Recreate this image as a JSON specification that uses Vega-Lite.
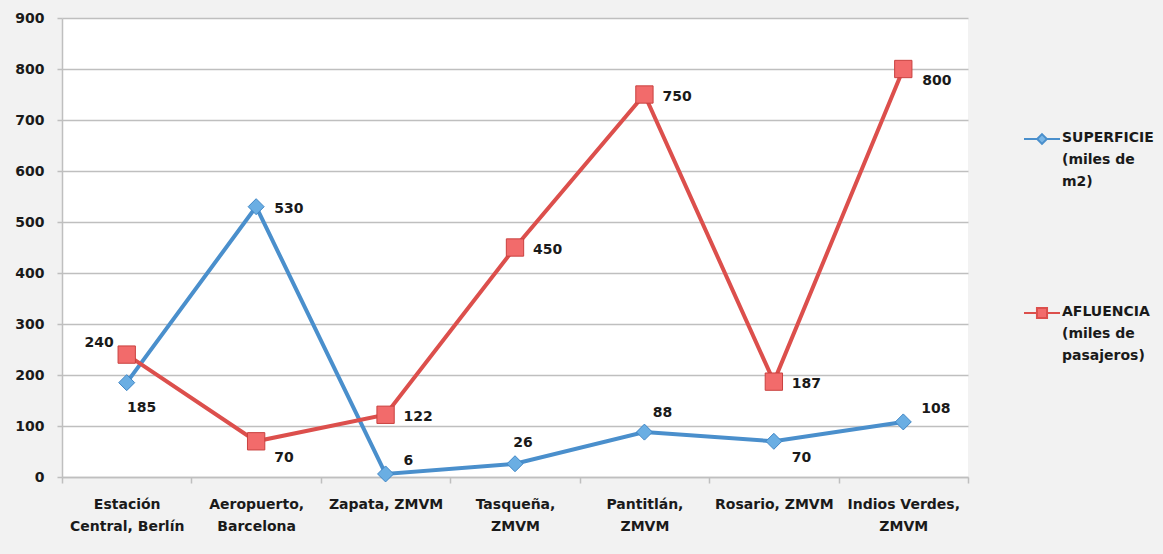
{
  "$schema": "https://vega.github.io/schema/vega-lite/v6.json",
  "width": 906,
  "height": 459,
  "autosize": {"type": "none"},
  "padding": {"left": 62, "top": 18, "right": 195, "bottom": 77},
  "background": "#f2f2f2",
  "config": {"view": {"stroke": null, "fill": "#ffffff"}, "font": "DejaVu Sans"},
  "data": {
    "values": [
      {"cat": "Estación Central, Berlín", "serie": "SUPERFICIE (miles de m2)", "valor": 185},
      {"cat": "Aeropuerto, Barcelona", "serie": "SUPERFICIE (miles de m2)", "valor": 530},
      {"cat": "Zapata, ZMVM", "serie": "SUPERFICIE (miles de m2)", "valor": 6},
      {"cat": "Tasqueña, ZMVM", "serie": "SUPERFICIE (miles de m2)", "valor": 26},
      {"cat": "Pantitlán, ZMVM", "serie": "SUPERFICIE (miles de m2)", "valor": 88},
      {"cat": "Rosario, ZMVM", "serie": "SUPERFICIE (miles de m2)", "valor": 70},
      {"cat": "Indios Verdes, ZMVM", "serie": "SUPERFICIE (miles de m2)", "valor": 108},
      {"cat": "Estación Central, Berlín", "serie": "AFLUENCIA (miles de pasajeros)", "valor": 240},
      {"cat": "Aeropuerto, Barcelona", "serie": "AFLUENCIA (miles de pasajeros)", "valor": 70},
      {"cat": "Zapata, ZMVM", "serie": "AFLUENCIA (miles de pasajeros)", "valor": 122},
      {"cat": "Tasqueña, ZMVM", "serie": "AFLUENCIA (miles de pasajeros)", "valor": 450},
      {"cat": "Pantitlán, ZMVM", "serie": "AFLUENCIA (miles de pasajeros)", "valor": 750},
      {"cat": "Rosario, ZMVM", "serie": "AFLUENCIA (miles de pasajeros)", "valor": 187},
      {"cat": "Indios Verdes, ZMVM", "serie": "AFLUENCIA (miles de pasajeros)", "valor": 800}
    ]
  },
  "encoding": {
    "x": {
      "field": "cat",
      "type": "nominal",
      "sort": null,
      "scale": {"type": "band", "paddingInner": 0, "paddingOuter": 0},
      "axis": {
        "title": null,
        "labelAngle": 0,
        "tickBand": "extent",
        "domainColor": "#bfbfbf",
        "domainWidth": 1.5,
        "tickColor": "#bfbfbf",
        "tickWidth": 1.5,
        "tickSize": 6,
        "labelPadding": 14,
        "labelFont": "DejaVu Sans",
        "labelFontSize": 14,
        "labelFontWeight": "bold",
        "labelColor": "#1a1a1a",
        "labelLineHeight": 22,
        "labelBaseline": "top",
        "labelLimit": 200,
        "labelExpr": "datum.value == 'Estación Central, Berlín' ? ['Estación', 'Central, Berlín'] : datum.value == 'Aeropuerto, Barcelona' ? ['Aeropuerto,', 'Barcelona'] : datum.value == 'Tasqueña, ZMVM' ? ['Tasqueña,', 'ZMVM'] : datum.value == 'Pantitlán, ZMVM' ? ['Pantitlán,', 'ZMVM'] : datum.value == 'Indios Verdes, ZMVM' ? ['Indios Verdes,', 'ZMVM'] : datum.value"
      }
    },
    "y": {
      "field": "valor",
      "type": "quantitative",
      "scale": {"domain": [0, 900], "nice": false},
      "axis": {
        "title": null,
        "values": [0, 100, 200, 300, 400, 500, 600, 700, 800, 900],
        "grid": true,
        "gridColor": "#bfbfbf",
        "gridWidth": 1.5,
        "domainColor": "#bfbfbf",
        "domainWidth": 1.5,
        "tickColor": "#bfbfbf",
        "tickWidth": 1.5,
        "tickSize": 5,
        "labelPadding": 13,
        "labelFont": "DejaVu Sans",
        "labelFontSize": 14,
        "labelFontWeight": "bold",
        "labelColor": "#1a1a1a"
      }
    }
  },
  "layer": [
    {
      "mark": {"type": "line", "strokeWidth": 4},
      "encoding": {
        "color": {
          "field": "serie",
          "type": "nominal",
          "scale": {"domain": ["SUPERFICIE (miles de m2)", "AFLUENCIA (miles de pasajeros)"], "range": ["#4a8fcc", "#dc4f4c"]},
          "legend": {
            "title": null,
            "orient": "none",
            "legendX": 961,
            "legendY": 102,
            "padding": 0,
            "labelFont": "DejaVu Sans",
            "labelFontSize": 14,
            "labelFontWeight": "bold",
            "labelColor": "#1a1a1a",
            "labelLimit": 300,
            "labelOffset": 1,
            "rowPadding": 105,
            "symbolSize": 1296,
            "symbolStrokeWidth": 2,
            "labelBaseline": "top",
            "labelExpr": "datum.value == 'SUPERFICIE (miles de m2)' ? ['SUPERFICIE', '(miles de', 'm2)'] : ['AFLUENCIA', '(miles de', 'pasajeros)']",
            "encode": {
              "symbols": {
                "update": {
                  "shape": {"signal": "datum.value == 'SUPERFICIE (miles de m2)' ? 'M-1,0L-0.27,0M0,-0.27L0.27,0L0,0.27L-0.27,0ZM0.27,0L1,0' : 'M-1,0L-0.28,0M-0.28,-0.28L0.28,-0.28L0.28,0.28L-0.28,0.28ZM0.28,0L1,0'"},
                  "fill": {"signal": "datum.value == 'SUPERFICIE (miles de m2)' ? '#7ab6e6' : '#f26b6b'"},
                  "fillOpacity": {"value": 1},
                  "strokeWidth": {"value": 2}
                }
              },
              "labels": {
                "update": {"lineHeight": {"value": 22}, "dy": {"value": -8}}
              }
            }
          }
        }
      }
    },
    {
      "transform": [{"filter": "datum.serie == 'SUPERFICIE (miles de m2)'"}],
      "mark": {"type": "point", "shape": "diamond", "filled": true, "opacity": 1, "size": 256, "fill": "#6aaee3", "stroke": "#3f86c6", "strokeWidth": 1}
    },
    {
      "transform": [{"filter": "datum.serie == 'AFLUENCIA (miles de pasajeros)'"}],
      "mark": {"type": "point", "shape": "square", "filled": true, "opacity": 1, "size": 300, "fill": "#f26b6b", "stroke": "#c9413f", "strokeWidth": 1}
    },
    {
      "transform": [{"filter": "(datum.serie == 'AFLUENCIA (miles de pasajeros)' && indexof(['Zapata, ZMVM', 'Tasqueña, ZMVM', 'Pantitlán, ZMVM', 'Rosario, ZMVM'], datum.cat) >= 0) || (datum.serie == 'SUPERFICIE (miles de m2)' && datum.cat == 'Aeropuerto, Barcelona')"}],
      "mark": {"type": "text", "align": "left", "baseline": "middle", "dx": 18, "dy": 2, "font": "DejaVu Sans", "fontSize": 14, "fontWeight": "bold", "fill": "#1a1a1a"},
      "encoding": {"text": {"field": "valor", "type": "quantitative"}}
    },
    {
      "transform": [{"filter": "(datum.serie == 'AFLUENCIA (miles de pasajeros)' && datum.cat == 'Aeropuerto, Barcelona') || (datum.serie == 'SUPERFICIE (miles de m2)' && datum.cat == 'Rosario, ZMVM')"}],
      "mark": {"type": "text", "align": "left", "baseline": "middle", "dx": 18, "dy": 17, "font": "DejaVu Sans", "fontSize": 14, "fontWeight": "bold", "fill": "#1a1a1a"},
      "encoding": {"text": {"field": "valor", "type": "quantitative"}}
    },
    {
      "transform": [{"filter": "datum.serie == 'AFLUENCIA (miles de pasajeros)' && datum.cat == 'Indios Verdes, ZMVM'"}],
      "mark": {"type": "text", "align": "left", "baseline": "middle", "dx": 19, "dy": 12, "font": "DejaVu Sans", "fontSize": 14, "fontWeight": "bold", "fill": "#1a1a1a"},
      "encoding": {"text": {"field": "valor", "type": "quantitative"}}
    },
    {
      "transform": [{"filter": "datum.serie == 'SUPERFICIE (miles de m2)' && indexof(['Zapata, ZMVM', 'Indios Verdes, ZMVM'], datum.cat) >= 0"}],
      "mark": {"type": "text", "align": "left", "baseline": "middle", "dx": 18, "dy": -13, "font": "DejaVu Sans", "fontSize": 14, "fontWeight": "bold", "fill": "#1a1a1a"},
      "encoding": {"text": {"field": "valor", "type": "quantitative"}}
    },
    {
      "transform": [{"filter": "datum.serie == 'SUPERFICIE (miles de m2)' && datum.cat == 'Pantitlán, ZMVM'"}],
      "mark": {"type": "text", "align": "center", "baseline": "middle", "dx": 18, "dy": -19, "font": "DejaVu Sans", "fontSize": 14, "fontWeight": "bold", "fill": "#1a1a1a"},
      "encoding": {"text": {"field": "valor", "type": "quantitative"}}
    },
    {
      "transform": [{"filter": "datum.serie == 'SUPERFICIE (miles de m2)' && datum.cat == 'Tasqueña, ZMVM'"}],
      "mark": {"type": "text", "align": "center", "baseline": "middle", "dx": 8, "dy": -21, "font": "DejaVu Sans", "fontSize": 14, "fontWeight": "bold", "fill": "#1a1a1a"},
      "encoding": {"text": {"field": "valor", "type": "quantitative"}}
    },
    {
      "transform": [{"filter": "datum.serie == 'SUPERFICIE (miles de m2)' && datum.cat == 'Estación Central, Berlín'"}],
      "mark": {"type": "text", "align": "center", "baseline": "middle", "dx": 15, "dy": 25, "font": "DejaVu Sans", "fontSize": 14, "fontWeight": "bold", "fill": "#1a1a1a"},
      "encoding": {"text": {"field": "valor", "type": "quantitative"}}
    },
    {
      "transform": [{"filter": "datum.serie == 'AFLUENCIA (miles de pasajeros)' && datum.cat == 'Estación Central, Berlín'"}],
      "mark": {"type": "text", "align": "right", "baseline": "middle", "dx": -13, "dy": -12, "font": "DejaVu Sans", "fontSize": 14, "fontWeight": "bold", "fill": "#1a1a1a"},
      "encoding": {"text": {"field": "valor", "type": "quantitative"}}
    }
  ]
}
